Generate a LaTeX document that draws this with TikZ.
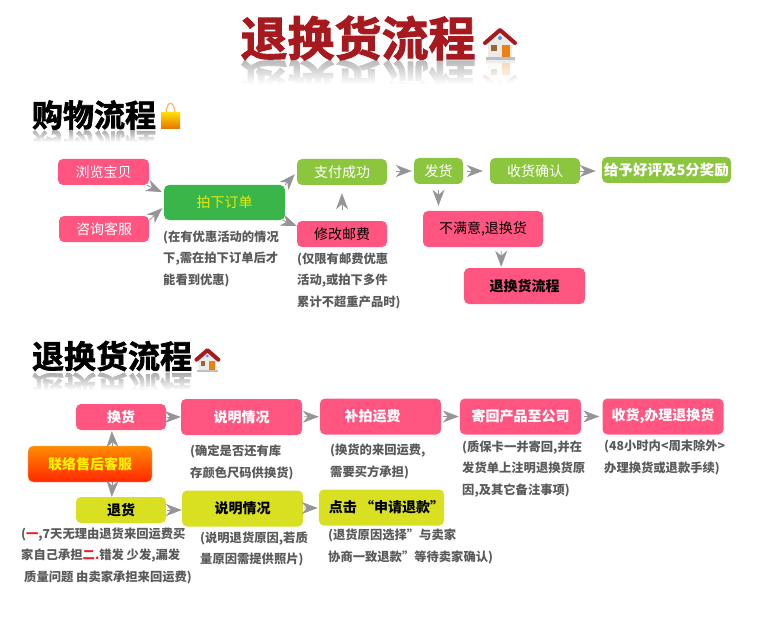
\documentclass[tikz,border=0pt]{standalone}
\usepackage{fontspec}
\usepackage{xcolor}
\setmainfont{Noto Sans CJK SC}
\newfontfamily\titlefont[FakeBold=2]{Noto Sans CJK SC Bold}
\definecolor{boxpink}{RGB}{255, 85, 128}
\definecolor{boxgreen}{RGB}{57, 181, 74}
\definecolor{boxlime}{RGB}{140, 198, 63}
\definecolor{boxyellow}{RGB}{217, 224, 33}
\definecolor{arrowgray}{RGB}{150, 148, 150}
\definecolor{notegray}{RGB}{90, 90, 90}
\definecolor{titlered}{RGB}{166, 25, 30}
\definecolor{notered}{RGB}{237, 28, 36}
\usetikzlibrary{arrows.meta, fadings}
\tikzset{
    house/.pic={
        \fill[black!25] (3,30) rectangle (32,33);
        \fill[black!8] (5,14) -- (17,5) -- (29,14) -- (29,30) -- (5,30) -- cycle;
        \draw[line width=4pt, titlered, line join=round, line cap=round] (2,16) -- (17,3) -- (32,16);
        \fill[cyan!60!blue!70] (17,11) circle (2);
        \fill[brown!80!black] (8,18) rectangle (14,24);
        \fill[orange!70!brown] (19,18) rectangle (27,30);
    },
    bag/.pic={
        \draw[line width=1.2pt, orange!60] (5,11) .. controls (6,-2) and (13,-2) .. (14,11);
        \shade[top color=yellow!70!orange, bottom color=orange!90!black] (0,11) rectangle (19,27);
    }
}
\begin{document}
\begin{tikzpicture}[
    x=1pt, y=-1pt,
    flowbox/.style={rounded corners=5pt, inner sep=0pt, font=\fontsize{14}{16}\selectfont},
    smallbox/.style={flowbox, minimum width=90pt, minimum height=26pt},
    bigbox/.style={flowbox, minimum width=121pt, minimum height=36pt},
    boldbox/.style={font=\fontsize{14}{16}\selectfont\bfseries},
    notetext/.style={anchor=north west, inner sep=0pt, align=left, text=notegray,
                 font=\fontsize{12.3}{21.6}\selectfont\bfseries},
    flowarrow/.style={-{Stealth[length=16pt, width=12pt, inset=5pt]}, line width=.8pt, arrowgray},
    fadebox/.style={white, path fading=north}
]
    \useasboundingbox (0,0) rectangle (759,628);

    % Titles
    \node[yscale=-1, text=black!28, font=\titlefont\fontsize{47}{50}\selectfont] (titlemirror) at (358,82) {退换货流程};
    \pic[yscale=-1, opacity=.3] at (483,93) {house};
    \fill[fadebox] (235,60) rectangle (522,84);
    \fill[white] (235,84) rectangle (522,108);
    \node[text=titlered, font=\titlefont\fontsize{47}{50}\selectfont] (maintitle) at (358,38) {退换货流程};
    \pic at (483,27) {house};

    \node[yscale=-1, text=black!35, font=\titlefont\fontsize{31}{34}\selectfont] (buymirror) at (94,145) {购物流程};
    \fill[fadebox] (28,130) rectangle (184,142);
    \fill[white] (28,142) rectangle (184,162);
    \node[font=\titlefont\fontsize{31}{34}\selectfont] (buytitle) at (94,115) {购物流程};
    \pic at (161,102) {bag};

    \node[yscale=-1, text=black!35, font=\titlefont\fontsize{32}{35}\selectfont] (backmirror) at (112,388) {退换货流程};
    \fill[fadebox] (28,372) rectangle (222,390);
    \fill[white] (28,390) rectangle (222,408);
    \node[font=\titlefont\fontsize{32}{35}\selectfont] (backtitle) at (112,356) {退换货流程};
    \pic[scale=.73] at (195,348) {house};

    % Buying flow
    \node[smallbox, fill=boxpink, text=white, minimum width=91pt] (browse) at (103.5,172) {浏览宝贝};
    \node[smallbox, fill=boxpink, text=white] (consult) at (104,229) {咨询客服};
    \node[flowbox, fill=boxgreen, text=yellow!90!green, minimum width=121pt, minimum height=35pt] (order) at (224.5,202.5) {拍下订单};
    \node[smallbox, fill=boxlime, text=white] (pay) at (342,172) {支付成功};
    \node[smallbox, fill=boxpink, text=black] (postage) at (342,234) {修改邮费};
    \node[smallbox, fill=boxlime, text=white, minimum width=49pt] (ship) at (438.5,171) {发货};
    \node[smallbox, fill=boxlime, text=white] (receive) at (535,171) {收货确认};
    \node[smallbox, fill=boxlime, text=white, minimum width=129pt, font=\fontsize{14.5}{16}\selectfont\bfseries] (praise) at (666.5,170) {给予好评及5分奖励};
    \node[bigbox, fill=boxpink, text=black, minimum width=120pt] (dissat) at (483,229) {不满意,退换货};
    \node[bigbox, boldbox, fill=boxpink, text=black] (return) at (524.5,286) {退换货流程};

    \node[notetext] (ordernote) at (163,230.5) {(在有优惠活动的情况\\下,需在拍下订单后才\\能看到优惠)};
    \node[notetext] (postagenote) at (297,252.5) {(仅限有邮费优惠\\活动,或拍下多件\\累计不超重产品时)};

    \draw[flowarrow, shorten >=2pt] (browse.-17) -- (order.171);
    \draw[flowarrow, shorten >=2pt] (consult.11) -- (order.184);
    \draw[flowarrow, shorten >=3pt] (order.north east) -- (pay.west);
    \draw[flowarrow] (order.-17.5) -- (postage.170);
    \draw[flowarrow, shorten >=8pt, shorten <=11pt] (postage) -- (pay);
    \draw[flowarrow, shorten >=2pt, shorten <=9pt] (pay.east |- ship.east) -- (ship);
    \draw[flowarrow, shorten >=7pt, shorten <=4pt] (ship) -- (receive);
    \draw[flowarrow, shorten >=6pt] (receive) -- (praise.west |- receive.east);
    \draw[flowarrow, shorten >=5pt, shorten <=6pt] (ship) -- (ship.south |- dissat.north);
    \draw[flowarrow, shorten >=1pt, shorten <=4pt] (dissat.-45) -- (return.142.5);

    % Return flow
    \node[flowbox, boldbox, draw=orange!40, shade, top color=orange!90!yellow, bottom color=red!70!orange, text=yellow, minimum width=124pt, minimum height=36pt] (contact) at (90,464) {联络售后客服};
    \node[smallbox, boldbox, fill=boxpink, text=white] (swap) at (121,417) {换货};
    \node[bigbox, boldbox, fill=boxpink, text=white] (explain) at (241.5,417) {说明情况};
    \node[bigbox, boldbox, fill=boxpink, text=white] (repay) at (380.5,416.5) {补拍运费\hspace*{16pt}};
    \node[bigbox, boldbox, fill=boxpink, text=white] (sendback) at (520.5,416.5) {寄回产品至公司};
    \node[bigbox, boldbox, fill=boxpink, text=white] (handle) at (663,416.5) {收货,办理退换货};
    \node[smallbox, boldbox, fill=boxyellow, text=black] (refund) at (121,510) {退货};
    \node[bigbox, boldbox, fill=boxyellow, text=black] (reason) at (242.5,508.5) {说明情况};
    \node[bigbox, boldbox, fill=boxyellow, text=black] (apply) at (381.5,507.5) {\hspace*{10pt}点击\ “申请退款”};

    \node[notetext] (explainnote) at (190,445) {(确定是否还有库\\存颜色尺码供换货)};
    \node[notetext] (repaynote) at (330,444) {(换货的来回运费,\\需要买方承担)};
    \node[notetext] (sendnote) at (462,440.5) {(质保卡一并寄回,并在\\发货单上注明退换货原\\因,及其它备注事项)};
    \node[notetext] (handlenote) at (604,440) {(48小时内<周末除外>\\办理换货或退款手续)};
    \node[notetext] (refundnote) at (21,527.5) {(\textcolor{notered}{一},7天无理由退货来回运费买\\家自己承担\textcolor{notered}{二.}错发 少发,漏发\\\hspace*{3pt}质量问题 由卖家承担来回运费)};
    \node[notetext] (reasonnote) at (200,531.5) {(说明退货原因,若质\\量原因需提供照片)};
    \node[notetext] (applynote) at (328,529) {(退货原因选择”与卖家\\协商一致退款”等待卖家确认)};

    \draw[flowarrow, shorten >=1pt] (contact.39) -- (swap.235);
    \draw[flowarrow] (contact.-39) -- (refund.125);
    \draw[flowarrow, shorten <=1pt] (swap) -- (explain.west |- swap.east);
    \draw[flowarrow, shorten >=1pt, shorten <=2pt] (explain) -- (repay);
    \draw[flowarrow, shorten >=1pt, shorten <=2pt] (repay) -- (sendback);
    \draw[flowarrow, shorten >=3pt, shorten <=3pt] (sendback) -- (handle);
    \draw[flowarrow, shorten <=1pt] (refund) -- (reason.west |- refund.east);
    \draw[flowarrow, shorten >=1pt, shorten <=1pt] (reason) -- (apply);
\end{tikzpicture}
\end{document}
